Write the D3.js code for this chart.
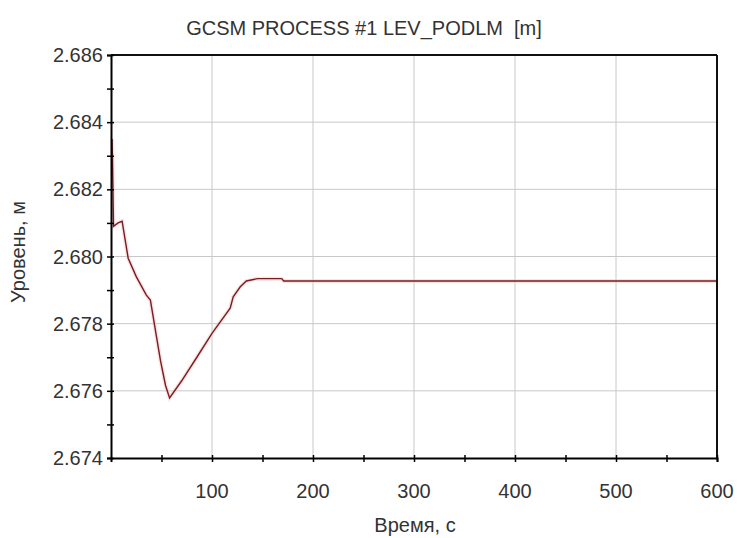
<!DOCTYPE html>
<html>
<head>
<meta charset="utf-8">
<script src="https://cdn.jsdelivr.net/npm/d3@7"></script>
<style>
  body { margin: 0; background: #fff; }
  text { font-family: "Liberation Sans", Arial, sans-serif; fill: #333; }
</style>
</head>
<body>
<div id="chart"></div>
<script>
// data
const times = [1, 1.5, 2.5, 7, 11, 17, 25, 35, 39, 44, 49, 54, 58, 70, 85, 100, 118, 121, 128, 134, 145, 169, 171, 600];
const levels = [2.6835, 2.6829, 2.6809, 2.6810, 2.68105, 2.67995, 2.6794, 2.67885, 2.6787, 2.6778, 2.6769, 2.67616, 2.67579, 2.6763, 2.6770, 2.67771, 2.67846, 2.6788, 2.6791, 2.67927, 2.67934, 2.67934, 2.67927, 2.67927];
const xTicks = [100, 200, 300, 400, 500, 600];
const yTicks = [2.674, 2.676, 2.678, 2.680, 2.682, 2.684, 2.686];

const W = 737, H = 538;
const margin = { top: 55, right: 20, bottom: 80, left: 111 };
const width = W - margin.left - margin.right;
const height = H - margin.top - margin.bottom;

const svg = d3.select("#chart").append("svg")
  .attr("width", W)
  .attr("height", H);

const g = svg.append("g")
  .attr("transform", `translate(${margin.left},${margin.top})`);

const x = d3.scaleLinear().domain([0, 600]).range([0, width]);
const y = d3.scaleLinear().domain([2.674, 2.686]).range([height, 0]);

// grid
g.append("g").selectAll("line")
  .data(xTicks.filter(d => d < 600))
  .join("line")
  .attr("x1", d => x(d)).attr("x2", d => x(d))
  .attr("y1", 0).attr("y2", height)
  .attr("stroke", "#c8c8c8");

g.append("g").selectAll("line")
  .data(yTicks.filter(d => d > 2.674 && d < 2.686))
  .join("line")
  .attr("x1", 0).attr("x2", width)
  .attr("y1", d => y(d)).attr("y2", d => y(d))
  .attr("stroke", "#c8c8c8");

// curve
const line = d3.line()
  .x((d, i) => x(times[i]))
  .y(d => y(d));

g.append("path")
  .datum(levels)
  .attr("fill", "none")
  .attr("stroke", "#f5c8c8")
  .attr("stroke-width", 4)
  .attr("opacity", 0.5)
  .attr("d", line);

g.append("path")
  .datum(levels)
  .attr("fill", "none")
  .attr("stroke", "#7a1c22")
  .attr("stroke-width", 1.4)
  .attr("d", line);

// frame top/right
g.append("line").attr("x1", 0).attr("x2", width).attr("y1", 0).attr("y2", 0)
  .attr("stroke", "#111").attr("stroke-width", 2);
g.append("line").attr("x1", width).attr("x2", width).attr("y1", 0).attr("y2", height)
  .attr("stroke", "#111").attr("stroke-width", 2);

// axes: minor ticks crossing the line, labels on major ones
const xAxis = g.append("g")
  .attr("transform", `translate(0,${height})`)
  .call(d3.axisBottom(x).tickValues(d3.range(50, 601, 50)).tickSize(4).tickFormat(""));
xAxis.selectAll(".tick line").attr("y1", -3).attr("stroke-width", 1.5);
xAxis.select(".domain").attr("stroke-width", 2);

g.append("g").selectAll("text")
  .data(xTicks)
  .join("text")
  .attr("x", d => x(d))
  .attr("y", height + 40)
  .attr("text-anchor", "middle")
  .style("font-size", "20px")
  .text(d => d);

const yAxis = g.append("g")
  .call(d3.axisLeft(y).tickValues(d3.range(0, 13).map(i => 2.674 + i * 0.001)).tickSize(4).tickFormat(""));
yAxis.selectAll(".tick line").attr("x1", 3).attr("stroke-width", 1.5);
yAxis.select(".domain").attr("stroke-width", 2);

g.append("g").selectAll("text")
  .data(yTicks)
  .join("text")
  .attr("x", -8)
  .attr("y", d => y(d) + 7)
  .attr("text-anchor", "end")
  .style("font-size", "20px")
  .text(d => d3.format(".3f")(d));

// titles
svg.append("text")
  .attr("x", 364).attr("y", 35)
  .attr("text-anchor", "middle")
  .style("font-size", "20px")
  .attr("xml:space", "preserve")
  .style("white-space", "pre")
  .text("GCSM PROCESS #1 LEV_PODLM  [m]");

svg.append("text")
  .attr("x", 415).attr("y", 532)
  .attr("text-anchor", "middle")
  .style("font-size", "20px")
  .text("Время, с");

svg.append("text")
  .attr("transform", "translate(25,252) rotate(-90)")
  .attr("text-anchor", "middle")
  .style("font-size", "20px")
  .text("Уровень, м");
</script>
</body>
</html>
